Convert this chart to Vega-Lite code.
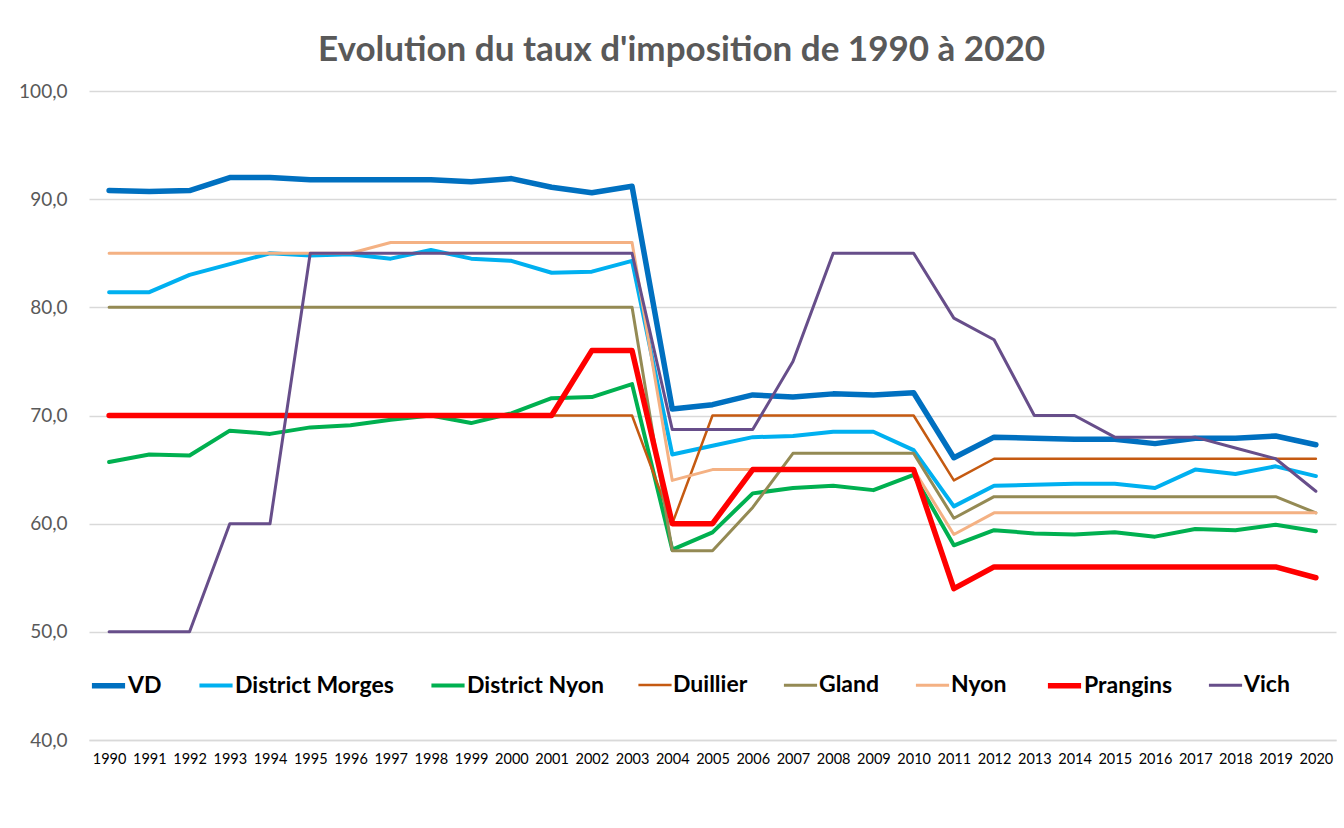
{
  "$schema": "https://vega.github.io/schema/vega-lite/v6.json",
  "width": 1247,
  "height": 649,
  "autosize": {"type": "none"},
  "padding": {"left": 89, "top": 91, "right": 8, "bottom": 88},
  "background": "white",
  "title": {
    "text": "Evolution du taux d'imposition de 1990 à 2020",
    "font": "Lato",
    "fontSize": 35,
    "fontWeight": "bold",
    "color": "#595959",
    "anchor": "middle",
    "dx": -31,
    "offset": 14
  },
  "data": {
    "values": [
      {"annee": 1990, "VD": 90.8, "District Morges": 81.4, "District Nyon": 65.7, "Duillier": 70, "Gland": 80, "Nyon": 85, "Prangins": 70, "Vich": 50},
      {"annee": 1991, "VD": 90.7, "District Morges": 81.4, "District Nyon": 66.4, "Duillier": 70, "Gland": 80, "Nyon": 85, "Prangins": 70, "Vich": 50},
      {"annee": 1992, "VD": 90.8, "District Morges": 83.0, "District Nyon": 66.3, "Duillier": 70, "Gland": 80, "Nyon": 85, "Prangins": 70, "Vich": 50},
      {"annee": 1993, "VD": 92.0, "District Morges": 84.0, "District Nyon": 68.6, "Duillier": 70, "Gland": 80, "Nyon": 85, "Prangins": 70, "Vich": 60},
      {"annee": 1994, "VD": 92.0, "District Morges": 85.0, "District Nyon": 68.3, "Duillier": 70, "Gland": 80, "Nyon": 85, "Prangins": 70, "Vich": 60},
      {"annee": 1995, "VD": 91.8, "District Morges": 84.8, "District Nyon": 68.9, "Duillier": 70, "Gland": 80, "Nyon": 85, "Prangins": 70, "Vich": 85},
      {"annee": 1996, "VD": 91.8, "District Morges": 84.9, "District Nyon": 69.1, "Duillier": 70, "Gland": 80, "Nyon": 85, "Prangins": 70, "Vich": 85},
      {"annee": 1997, "VD": 91.8, "District Morges": 84.5, "District Nyon": 69.6, "Duillier": 70, "Gland": 80, "Nyon": 86, "Prangins": 70, "Vich": 85},
      {"annee": 1998, "VD": 91.8, "District Morges": 85.3, "District Nyon": 70.0, "Duillier": 70, "Gland": 80, "Nyon": 86, "Prangins": 70, "Vich": 85},
      {"annee": 1999, "VD": 91.6, "District Morges": 84.5, "District Nyon": 69.3, "Duillier": 70, "Gland": 80, "Nyon": 86, "Prangins": 70, "Vich": 85},
      {"annee": 2000, "VD": 91.9, "District Morges": 84.3, "District Nyon": 70.2, "Duillier": 70, "Gland": 80, "Nyon": 86, "Prangins": 70, "Vich": 85},
      {"annee": 2001, "VD": 91.1, "District Morges": 83.2, "District Nyon": 71.6, "Duillier": 70, "Gland": 80, "Nyon": 86, "Prangins": 70, "Vich": 85},
      {"annee": 2002, "VD": 90.6, "District Morges": 83.3, "District Nyon": 71.7, "Duillier": 70, "Gland": 80, "Nyon": 86, "Prangins": 76, "Vich": 85},
      {"annee": 2003, "VD": 91.2, "District Morges": 84.3, "District Nyon": 72.9, "Duillier": 70, "Gland": 80, "Nyon": 86, "Prangins": 76, "Vich": 85},
      {"annee": 2004, "VD": 70.6, "District Morges": 66.4, "District Nyon": 57.6, "Duillier": 60, "Gland": 57.5, "Nyon": 64, "Prangins": 60, "Vich": 68.7},
      {"annee": 2005, "VD": 71.0, "District Morges": 67.2, "District Nyon": 59.2, "Duillier": 70, "Gland": 57.5, "Nyon": 65, "Prangins": 60, "Vich": 68.7},
      {"annee": 2006, "VD": 71.9, "District Morges": 68.0, "District Nyon": 62.8, "Duillier": 70, "Gland": 61.5, "Nyon": 65, "Prangins": 65, "Vich": 68.7},
      {"annee": 2007, "VD": 71.7, "District Morges": 68.1, "District Nyon": 63.3, "Duillier": 70, "Gland": 66.5, "Nyon": 65, "Prangins": 65, "Vich": 75},
      {"annee": 2008, "VD": 72.0, "District Morges": 68.5, "District Nyon": 63.5, "Duillier": 70, "Gland": 66.5, "Nyon": 65, "Prangins": 65, "Vich": 85},
      {"annee": 2009, "VD": 71.9, "District Morges": 68.5, "District Nyon": 63.1, "Duillier": 70, "Gland": 66.5, "Nyon": 65, "Prangins": 65, "Vich": 85},
      {"annee": 2010, "VD": 72.1, "District Morges": 66.8, "District Nyon": 64.5, "Duillier": 70, "Gland": 66.5, "Nyon": 65, "Prangins": 65, "Vich": 85},
      {"annee": 2011, "VD": 66.1, "District Morges": 61.6, "District Nyon": 58.0, "Duillier": 64, "Gland": 60.5, "Nyon": 59, "Prangins": 54, "Vich": 79},
      {"annee": 2012, "VD": 68.0, "District Morges": 63.5, "District Nyon": 59.4, "Duillier": 66, "Gland": 62.5, "Nyon": 61, "Prangins": 56, "Vich": 77},
      {"annee": 2013, "VD": 67.9, "District Morges": 63.6, "District Nyon": 59.1, "Duillier": 66, "Gland": 62.5, "Nyon": 61, "Prangins": 56, "Vich": 70},
      {"annee": 2014, "VD": 67.8, "District Morges": 63.7, "District Nyon": 59.0, "Duillier": 66, "Gland": 62.5, "Nyon": 61, "Prangins": 56, "Vich": 70},
      {"annee": 2015, "VD": 67.8, "District Morges": 63.7, "District Nyon": 59.2, "Duillier": 66, "Gland": 62.5, "Nyon": 61, "Prangins": 56, "Vich": 68},
      {"annee": 2016, "VD": 67.4, "District Morges": 63.3, "District Nyon": 58.8, "Duillier": 66, "Gland": 62.5, "Nyon": 61, "Prangins": 56, "Vich": 68},
      {"annee": 2017, "VD": 67.9, "District Morges": 65.0, "District Nyon": 59.5, "Duillier": 66, "Gland": 62.5, "Nyon": 61, "Prangins": 56, "Vich": 68},
      {"annee": 2018, "VD": 67.9, "District Morges": 64.6, "District Nyon": 59.4, "Duillier": 66, "Gland": 62.5, "Nyon": 61, "Prangins": 56, "Vich": 67},
      {"annee": 2019, "VD": 68.1, "District Morges": 65.3, "District Nyon": 59.9, "Duillier": 66, "Gland": 62.5, "Nyon": 61, "Prangins": 56, "Vich": 66},
      {"annee": 2020, "VD": 67.3, "District Morges": 64.4, "District Nyon": 59.3, "Duillier": 66, "Gland": 61, "Nyon": 61, "Prangins": 55, "Vich": 63}
    ]
  },
  "transform": [
    {"fold": ["VD", "District Morges", "District Nyon", "Duillier", "Gland", "Nyon", "Prangins", "Vich"], "as": ["serie", "taux"]}
  ],
  "mark": {"type": "line", "strokeCap": "round", "strokeJoin": "round"},
  "encoding": {
    "x": {
      "field": "annee",
      "type": "ordinal",
      "scale": {"type": "point", "padding": 0.5},
      "axis": {
        "title": null,
        "labelAngle": 0,
        "labelFont": "Lato",
        "labelFontSize": 14.5,
        "labelColor": "#000000",
        "ticks": false,
        "domainColor": "#d9d9d9",
        "domainWidth": 1.5,
        "labelPadding": 12,
        "grid": false
      }
    },
    "y": {
      "field": "taux",
      "type": "quantitative",
      "scale": {"domain": [40, 100], "nice": false, "zero": false},
      "axis": {
        "title": null,
        "values": [40, 50, 60, 70, 80, 90, 100],
        "labelExpr": "replace(format(datum.value, '.1f'), '.', ',')",
        "labelFont": "Lato",
        "labelFontSize": 19,
        "labelColor": "#595959",
        "labelPadding": 22,
        "ticks": false,
        "domain": false,
        "grid": true,
        "gridColor": "#d9d9d9",
        "gridWidth": 1.5
      }
    },
    "color": {
      "field": "serie",
      "type": "nominal",
      "scale": {
        "domain": ["VD", "District Morges", "District Nyon", "Duillier", "Gland", "Nyon", "Prangins", "Vich"],
        "range": ["#0070C0", "#00B0F0", "#00B050", "#C55A11", "#948A54", "#F4B183", "#FF0000", "#674E8A"]
      },
      "legend": {
        "title": null,
        "orient": "none",
        "direction": "horizontal",
        "legendX": 0,
        "legendY": 575
      }
    },
    "strokeWidth": {
      "field": "serie",
      "type": "nominal",
      "scale": {
        "type": "ordinal",
        "domain": ["VD", "District Morges", "District Nyon", "Duillier", "Gland", "Nyon", "Prangins", "Vich"],
        "range": [5.5, 4, 4, 2.5, 3, 3, 5.5, 3]
      },
      "legend": {
        "title": null,
        "orient": "none",
        "direction": "horizontal",
        "legendX": 0,
        "legendY": 575
      }
    }
  },
  "config": {
    "view": {"stroke": null},
    "legend": {
      "labelFont": "Lato",
      "labelFontSize": 23,
      "labelFontWeight": "bold",
      "labelColor": "#000000",
      "symbolType": "stroke",
      "symbolSize": 1100,
      "labelOffset": 0,
      "columnPadding": 29,
      "labelLimit": 300
    }
  }
}
